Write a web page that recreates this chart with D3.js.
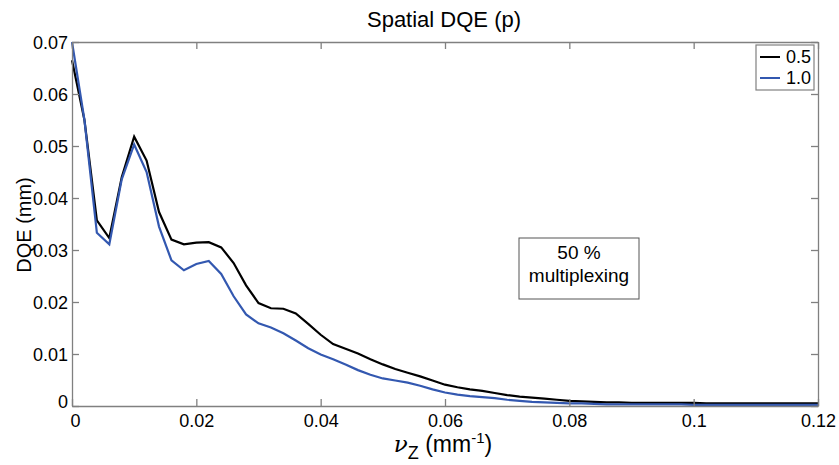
<!DOCTYPE html>
<html><head><meta charset="utf-8">
<script src="https://cdn.jsdelivr.net/npm/d3@7"></script>
<style>body{margin:0;background:#fff}svg{display:block;font-family:"Liberation Sans",Arial,sans-serif}</style>
</head><body><svg id="c" width="839" height="465"></svg>
<script>
const freq = [0,0.002,0.004,0.006,0.008,0.010,0.012,0.014,0.016,0.018,0.020,0.022,0.024,0.026,0.028,0.030,0.032,0.034,0.036,0.038,0.040,0.042,0.044,0.046,0.048,0.050,0.052,0.054,0.056,0.058,0.060,0.062,0.064,0.066,0.068,0.070,0.072,0.074,0.076,0.078,0.080,0.082,0.084,0.086,0.088,0.090,0.092,0.094,0.096,0.098,0.100,0.102,0.104,0.106,0.108,0.110,0.112,0.114,0.116,0.118,0.120];
const dqe05 = [0.0665,0.0550,0.0357,0.0323,0.0440,0.0518,0.0472,0.0373,0.0320,0.0311,0.0314,0.0315,0.0305,0.0275,0.0232,0.0198,0.0188,0.0187,0.0178,0.0158,0.0137,0.0119,0.0110,0.0101,0.0090,0.0080,0.0071,0.0064,0.0057,0.0049,0.0041,0.0036,0.0032,0.0029,0.0025,0.0021,0.0018,0.0016,0.0014,0.0012,0.0010,0.0009,0.0008,0.0007,0.0007,0.0006,0.0006,0.0006,0.0006,0.0006,0.0006,0.0005,0.0005,0.0005,0.0005,0.0005,0.0005,0.0005,0.0005,0.0005,0.0005];
const dqe10 = [0.0700,0.0550,0.0333,0.0311,0.0436,0.0503,0.0450,0.0345,0.0280,0.0261,0.0273,0.0279,0.0254,0.0211,0.0176,0.0159,0.0151,0.0140,0.0126,0.0111,0.0099,0.0090,0.0080,0.0069,0.0060,0.0053,0.0049,0.0045,0.0039,0.0032,0.0026,0.0022,0.0019,0.0017,0.0015,0.0012,0.0010,0.0008,0.0007,0.0006,0.0005,0.0005,0.0004,0.0003,0.0003,0.0003,0.0003,0.0003,0.0003,0.0003,0.0002,0.0002,0.0002,0.0002,0.0002,0.0002,0.0002,0.0002,0.0002,0.0002,0.0002];
const seriesNames = ["0.5","1.0"];
const seriesColors = ["#000000","#3358b0"];
const xTicks = [0,0.02,0.04,0.06,0.08,0.1,0.12];
const yTicks = [0,0.01,0.02,0.03,0.04,0.05,0.06,0.07];
const noteLines = ["50 %","multiplexing"];

const svg = d3.select("#c");
const L=72, R=818, T=42, B=406;
const x = d3.scaleLinear().domain([0,0.12]).range([L,R]);
const y = d3.scaleLinear().domain([0,0.07]).range([B,T]);
const axCol = "#808080";
const fmt = d => d===0 ? "0" : String(+d.toFixed(3));

// lines
const series = [dqe05, dqe10];
const line = d3.line().x((d,i)=>x(freq[i])).y(d=>y(d));
series.forEach((s,k)=>{
  svg.append("path").datum(s).attr("d",line).attr("fill","none")
    .attr("stroke",seriesColors[k]).attr("stroke-width",2.2).attr("stroke-linejoin","miter");
});

// axes
const tl = 7;
const gB = svg.append("g").attr("transform",`translate(0,${B})`)
  .call(d3.axisBottom(x).tickValues(xTicks).tickFormat(fmt).tickSizeInner(-tl).tickSizeOuter(0).tickPadding(8));
const gT = svg.append("g").attr("transform",`translate(0,${T})`)
  .call(d3.axisTop(x).tickValues(xTicks).tickFormat("").tickSizeInner(-tl).tickSizeOuter(0));
const gL = svg.append("g").attr("transform",`translate(${L},0)`)
  .call(d3.axisLeft(y).tickValues(yTicks).tickFormat(fmt).tickSizeInner(-tl).tickSizeOuter(0).tickPadding(4));
const gR = svg.append("g").attr("transform",`translate(${R},0)`)
  .call(d3.axisRight(y).tickValues(yTicks).tickFormat("").tickSizeInner(-tl).tickSizeOuter(0));
[gB,gT,gL,gR].forEach(g=>{
  g.attr("font-size",18).attr("font-family","Liberation Sans, Arial, sans-serif");
  g.selectAll(".domain").attr("stroke",axCol).attr("stroke-width",1.3);
  g.selectAll(".tick line").attr("stroke",axCol).attr("stroke-width",1.3);
  g.selectAll("text").attr("fill","#000");
});
gL.selectAll(".tick text").attr("dy","0.35em");
gL.selectAll(".tick").filter(d=>d===0).select("text").attr("dy","0.1em");
gB.selectAll(".tick").filter(d=>d===0).select("text").attr("dx","3");

// title
svg.append("text").attr("x",444).attr("y",27).attr("text-anchor","middle")
  .attr("font-size",22).text("Spatial DQE (p)");

// y label
svg.append("text").attr("transform","translate(31,225) rotate(-90)").attr("text-anchor","middle")
  .attr("font-size",20).text("DQE (mm)");

// x label
const xl = svg.append("text").attr("x",443).attr("y",452).attr("text-anchor","middle").attr("font-size",23);
xl.append("tspan").attr("font-family","DejaVu Serif, serif").attr("font-style","italic").text("ν");
xl.append("tspan").attr("font-size",18).attr("dy",7).text("Z");
xl.append("tspan").attr("dy",-7).text(" (mm");
xl.append("tspan").attr("font-size",15).attr("dy",-9).text("-1");
xl.append("tspan").attr("dy",9).text(")");

// legend
const lg = svg.append("g");
lg.append("rect").attr("x",756).attr("y",45).attr("width",58).attr("height",45)
  .attr("fill","#fff").attr("stroke",axCol).attr("stroke-width",1.2);
seriesNames.forEach((n,i)=>{
  const cy = 57 + i*21;
  lg.append("line").attr("x1",760).attr("x2",780).attr("y1",cy).attr("y2",cy)
    .attr("stroke",seriesColors[i]).attr("stroke-width",2);
  lg.append("text").attr("x",786).attr("y",cy+6).attr("font-size",18).text(n);
});

// annotation box
svg.append("rect").attr("x",519).attr("y",238).attr("width",120).attr("height",61)
  .attr("fill","#fff").attr("stroke","#555").attr("stroke-width",1);
noteLines.forEach((t,i)=>{
  svg.append("text").attr("x",579).attr("y",259+i*23).attr("text-anchor","middle")
    .attr("font-size",19).text(t);
});
</script></body></html>
